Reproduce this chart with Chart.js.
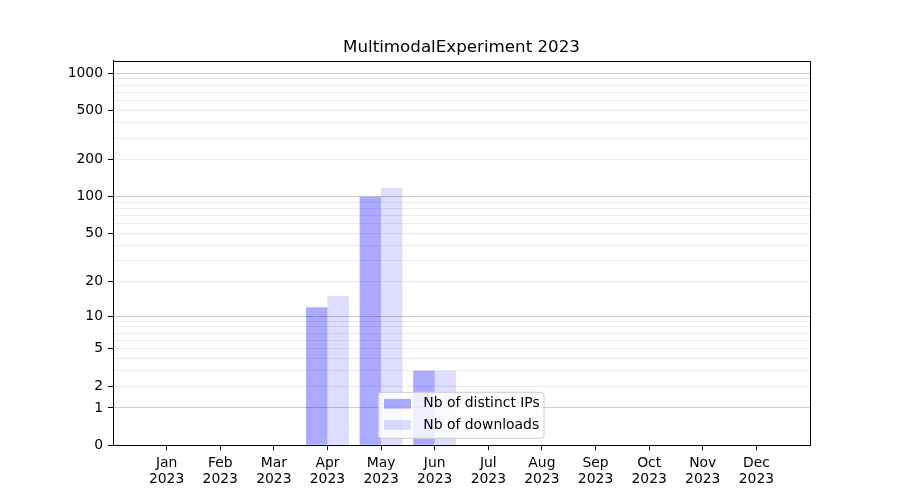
<!DOCTYPE html>
<html><head><meta charset="utf-8">
<script src="https://cdn.jsdelivr.net/npm/chart.js@4/dist/chart.umd.min.js"></script>
<style>html,body{margin:0;padding:0;background:#fff}#wrap{width:900px;height:500px}</style>
</head><body><div id="wrap"><canvas id="c" width="900" height="500"></canvas></div>
<script>
// ---- data ----
const chartTitle = 'MultimodalExperiment 2023';
const months = ['Jan','Feb','Mar','Apr','May','Jun','Jul','Aug','Sep','Oct','Nov','Dec'];
const year = '2023';
const seriesLabels = ['Nb of distinct IPs', 'Nb of downloads'];
const distinctIPs = [0, 0, 0, 12, 100, 3, 0, 0, 0, 0, 0, 0];
const downloads   = [0, 0, 0, 15, 118, 3, 0, 0, 0, 0, 0, 0];
const yTickLabels = [0, 1, 2, 5, 10, 20, 50, 100, 200, 500, 1000];
const yGridValues = [0, 1, 2, 3, 4, 5, 6, 7, 8, 9, 10, 20, 30, 40, 50, 60, 70, 80, 90,
                     100, 200, 300, 400, 500, 600, 700, 800, 900, 1000];
const yMajorGrid = [1, 10, 100, 1000];
const yMax = 1263;

// ---- log(1+x) scale ----
class Log1pScale extends Chart.Scale {
  static id = 'log1p';
  static defaults = {};
  parse(raw) {
    if (raw === null || raw === undefined) return null;
    const v = +raw; return isFinite(v) ? v : null;
  }
  determineDataLimits() {
    const {min, max} = this.getMinMax(true);
    this.min = Number.isFinite(this.options.min) ? this.options.min : Math.max(0, min);
    this.max = Number.isFinite(this.options.max) ? this.options.max : max;
  }
  buildTicks() { return []; }
  configure() {
    super.configure();
    this._startValue = Math.log10(this.min + 1);
    this._valueRange = Math.log10(this.max + 1) - this._startValue;
  }
  getLabelForValue(v) { return String(v); }
  getPixelForValue(v) {
    if (v === undefined || v === null || isNaN(v)) v = this.min;
    return this.getPixelForDecimal((Math.log10(Math.max(v, 0) + 1) - this._startValue) / this._valueRange);
  }
  getValueForPixel(p) {
    const d = this.getDecimalForPixel(p);
    return Math.pow(10, this._startValue + d * this._valueRange) - 1;
  }
}
Chart.register(Log1pScale);

const FONT = 'DejaVu Sans';
const TICK_SIZE = 13.9;

const framePlugin = {
  id: 'frameAndLegend',
  afterDraw(chart) {
    const ctx = chart.ctx, a = chart.chartArea;
    ctx.save();
    ctx.strokeStyle = '#000'; ctx.lineWidth = 1;
    ctx.strokeRect(Math.round(a.left) + 0.5, Math.round(a.top) + 0.5,
                   Math.round(a.right) - Math.round(a.left), Math.round(a.bottom) - Math.round(a.top));
    // legend (inside axes)
    const lx = a.left + 265.3, ly = a.bottom - 53, lw = 165.7, lh = 46;
    ctx.beginPath();
    ctx.roundRect(lx, ly, lw, lh, 3);
    ctx.fillStyle = 'rgba(255,255,255,0.8)'; ctx.fill();
    ctx.strokeStyle = '#cccccc'; ctx.lineWidth = 1; ctx.stroke();
    ctx.font = TICK_SIZE + 'px "' + FONT + '"';
    ctx.textBaseline = 'middle'; ctx.textAlign = 'left';
    chart.data.datasets.forEach((ds, i) => {
      const cy = ly + 11.4 + i * 21.3;
      ctx.fillStyle = ds.backgroundColor;
      ctx.fillRect(lx + 5.7, cy - 4.85, 27, 9.7);
      ctx.fillStyle = '#000';
      ctx.fillText(ds.label, lx + 45, cy);
    });
    ctx.restore();
  }
};

new Chart(document.getElementById('c'), {
  type: 'bar',
  data: {
    datasets: [
      { label: seriesLabels[0], data: distinctIPs.map((v, i) => ({x: i, y: v})),
        backgroundColor: 'rgba(0,0,255,0.333)', borderWidth: 0 },
      { label: seriesLabels[1], data: downloads.map((v, i) => ({x: i, y: v})),
        backgroundColor: 'rgba(0,0,255,0.133)', borderWidth: 0 }
    ]
  },
  options: {
    responsive: false, animation: false, devicePixelRatio: 1,
    categoryPercentage: 0.8, barPercentage: 1.0,
    layout: { padding: { top: 0, right: 90, bottom: 0, left: 0 } },
    plugins: {
      legend: { display: false },
      tooltip: { enabled: false },
      title: { display: true, fullSize: false, text: chartTitle, color: '#000',
               font: { family: FONT, size: 16.7, weight: 'normal' },
               padding: { top: 37.3, bottom: 3.4 } }
    },
    scales: {
      x: {
        type: 'linear', min: -1, max: 12, offset: false,
        afterBuildTicks: s => { s.ticks = months.map((m, i) => ({value: i})); },
        afterFit: s => { s.height = 54.7; },
        grid: { offset: false, drawOnChartArea: false, drawTicks: true, tickLength: 5, tickColor: '#000' },
        border: { display: true, color: '#000', width: 1 },
        ticks: { autoSkip: false, maxRotation: 0, minRotation: 0, padding: 5, color: '#000',
                 font: { family: FONT, size: TICK_SIZE, lineHeight: 1.15 },
                 callback: v => (v >= 0 && v < months.length) ? [months[v], year] : '' }
      },
      y: {
        type: 'log1p', min: 0, max: yMax, position: 'left',
        afterBuildTicks: s => { s.ticks = yGridValues.map(v => ({value: v})); },
        afterFit: s => { s.width = 113; },
        grid: {
          lineWidth: 1, tickLength: 5,
          color: c => { const v = c.tick ? c.tick.value : null;
            if (v === 0) return 'rgba(0,0,0,0)';
            return yMajorGrid.includes(v) ? '#cccccc' : '#ebebeb'; },
          tickColor: c => (c.tick && yTickLabels.includes(c.tick.value)) ? '#000' : 'rgba(0,0,0,0)'
        },
        border: { display: true, color: '#000', width: 1 },
        ticks: { autoSkip: false, padding: 5, color: '#000',
                 font: { family: FONT, size: TICK_SIZE },
                 callback: v => yTickLabels.includes(v) ? String(v) : '' }
      }
    }
  },
  plugins: [framePlugin]
});
</script></body></html>
